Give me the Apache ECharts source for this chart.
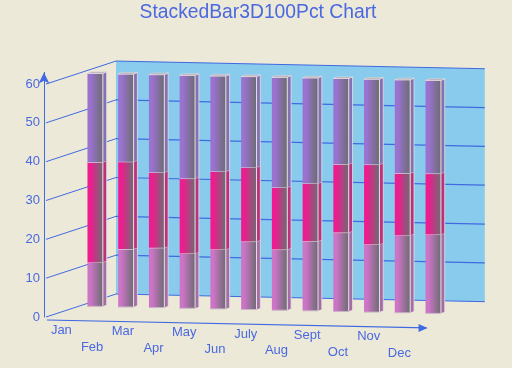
<!DOCTYPE html>
<html>
<head>
<meta charset="utf-8">
<style>html,body{margin:0;padding:0;background:#ECE9D8}#c{width:512px;height:368px}</style>
<script src="https://cdn.jsdelivr.net/npm/echarts@6/dist/echarts.min.js"></script>
</head>
<body>
<div id="c"></div>
<script>
const categories = ['Jan','Feb','Mar','Apr','May','Jun','July','Aug','Sept','Oct','Nov','Dec'];
const lowerValues  = [11.3,14.9,15.4,14.1,15.3,17.5,15.6,17.9,20.3,17.4,19.9,20.3];
const middleValues = [25.8,22.5,19.4,19.3,20.1,19.1,16.0,14.9,17.6,20.6,16.0,15.7];
const upperValues  = [22.9,22.6,25.2,26.6,24.6,23.4,28.4,27.2,22.1,22.0,24.1,24.0];
const yTicks = [0,10,20,30,40,50,60];

const blue = '#4169E1';
const textBlue = '#4A68E0';
const edge = '#E8E0E0';
const seriesColors = ['#CC74C6','#EE1C8E','#9A72D0'];
const sideColors = ['#A56CA8','#BC3080','#8470B4'];

// oblique projection of the flat grid
const SLOPE = 0.64;        // px drop per category band
const WALL = [70,-23];     // back wall offset
const BAR = [33.8,-11];    // bar front-face offset
const BAR_D = [3.8,-1.6];  // bar depth
const BAR_W = 15.4;

function base(api){
  const a = api.coord([0,0]), b = api.coord([1,0]);
  const band = b[0]-a[0];
  return {band, left:a[0]-band/2};
}
function proj(api,pos,v,off){ // pos in band units from the left edge
  const g = base(api);
  const y = api.coord([0,v])[1];
  return [g.left+pos*g.band+off[0], y+pos*SLOPE+off[1]];
}
function line(p,q,w){
  return {type:'line',shape:{x1:p[0],y1:p[1],x2:q[0],y2:q[1]},style:{stroke:blue,lineWidth:w||1},silent:true};
}

function wallItem(params,api){
  if(params.dataIndex!==0) return null;
  const n = categories.length;
  const tl=proj(api,0,60,WALL), tr=proj(api,n,60,WALL), br=proj(api,n,0,WALL), bl=proj(api,0,0,WALL);
  const kids=[{type:'polygon',shape:{points:[tl,tr,br,bl]},style:{fill:'#89CBEC'},silent:true}];
  yTicks.forEach(v=>{
    kids.push(line(proj(api,0,v,[0,0]),proj(api,0,v,WALL)));
    if(v>0) kids.push(line(proj(api,0,v,WALL),proj(api,n,v,WALL), v===60?1:1.2));
  });
  kids.push(line(proj(api,n,0,WALL),proj(api,0,0,WALL)));
  // category axis with arrow
  const a=proj(api,0,0,[1,3]), b=proj(api,12.35,0,[1,3]);
  kids.push(line(a,b,1.2));
  kids.push({type:'polygon',shape:{points:[[b[0]+1,b[1]],[b[0]-8,b[1]-4],[b[0]-8,b[1]+4]]},style:{fill:blue},silent:true});
  categories.forEach((c,i)=>{
    const p=proj(api,i+0.5,0,[0,i%2?29:13]);
    kids.push({type:'text',style:{text:c,x:p[0],y:p[1],align:'center',verticalAlign:'middle',fill:textBlue,font:'13px "Liberation Sans", Arial, sans-serif'},silent:true});
  });
  return {type:'group',children:kids};
}

function barItem(sIdx){
  return function(params,api){
    const i=api.value(0), v0=api.value(1), v1=api.value(2);
    const off=[BAR[0]-BAR_W/2,BAR[1]];
    const pos=i+0.5;
    const L=proj(api,pos,v0,off), T=proj(api,pos,v1,off);
    const x0=L[0], x1=L[0]+BAR_W, yb=L[1], yt=T[1];
    const dx=BAR_D[0], dy=BAR_D[1];
    const kids=[];
    kids.push({type:'polygon',shape:{points:[[x1,yb],[x1+dx,yb+dy],[x1+dx,yt+dy],[x1,yt]]},
      style:{fill:sideColors[sIdx]}});
    kids.push({type:'rect',shape:{x:x0,y:yt,width:BAR_W,height:yb-yt},
      style:{fill:new echarts.graphic.LinearGradient(0,0,1,0,[{offset:0,color:seriesColors[sIdx]},{offset:0.2,color:seriesColors[sIdx]},{offset:1,color:'#6C6C72'}])}});
    kids.push({type:'line',shape:{x1:x0,y1:yt,x2:x1,y2:yt},style:{stroke:edge,lineWidth:1}});
    kids.push({type:'line',shape:{x1:x1,y1:yb,x2:x1,y2:yt},style:{stroke:edge,lineWidth:1}});
    kids.push({type:'line',shape:{x1:x1+dx,y1:yb+dy,x2:x1+dx,y2:yt+dy},style:{stroke:edge,lineWidth:0.8}});
    kids.push({type:'line',shape:{x1:x1,y1:yt,x2:x1+dx,y2:yt+dy},style:{stroke:edge,lineWidth:0.8}});
    if(sIdx===2){
      kids.push({type:'polygon',shape:{points:[[x0,yt],[x1,yt],[x1+dx,yt+dy],[x0+dx,yt+dy]]},style:{fill:'#B9AEBE',stroke:edge,lineWidth:0.5}});
    }
    if(sIdx===0){
      kids.push({type:'line',shape:{x1:x0,y1:yb,x2:x1,y2:yb},style:{stroke:'#C9B4C8',lineWidth:1}});
    }
    return {type:'group',children:kids};
  };
}

function stackData(k){
  return categories.map((c,i)=>{
    const vals=[lowerValues[i],middleValues[i],upperValues[i]];
    const s=vals.slice(0,k).reduce((a,b)=>a+b,0);
    return [i,s,s+vals[k]];
  });
}

const chart=echarts.init(document.getElementById('c'),null,{renderer:'canvas'});
chart.setOption({
  animation:false,
  backgroundColor:'#ECE9D8',
  title:{text:'StackedBar3D100Pct Chart',left:253,top:-2,textAlign:'center',
    textStyle:{color:textBlue,fontSize:19.3,fontWeight:'normal',fontFamily:'"Liberation Sans", Arial, sans-serif'}},
  grid:{left:46,top:72.4,width:368.8,height:244.6},
  xAxis:{type:'category',data:categories,axisLine:{show:false},axisTick:{show:false},axisLabel:{show:false},splitLine:{show:false}},
  yAxis:{type:'value',min:0,max:63,interval:10,offset:2,
    axisLine:{show:true,lineStyle:{color:blue,width:1},symbol:['none','arrow'],symbolSize:[8,11]},
    axisTick:{show:false},splitLine:{show:false},
    axisLabel:{color:textBlue,fontSize:13,margin:4,showMaxLabel:false,fontFamily:'"Liberation Sans", Arial, sans-serif'}},
  series:[
    {type:'custom',name:'frame',z:1,clip:false,renderItem:wallItem,data:[[0]],encode:{x:0,y:0},silent:true},
    {type:'custom',name:'Lower',z:2,clip:false,renderItem:barItem(0),data:stackData(0),encode:{x:0,y:[1,2]}},
    {type:'custom',name:'Middle',z:3,clip:false,renderItem:barItem(1),data:stackData(1),encode:{x:0,y:[1,2]}},
    {type:'custom',name:'Upper',z:4,clip:false,renderItem:barItem(2),data:stackData(2),encode:{x:0,y:[1,2]}}
  ]
});
</script>
</body>
</html>
